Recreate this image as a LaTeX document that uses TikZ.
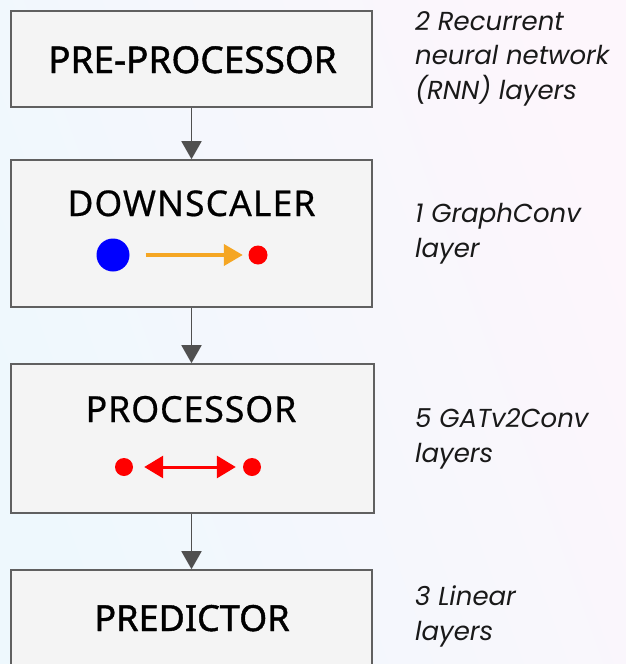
\documentclass[tikz,border=0pt]{standalone}
\usepackage{fontspec}
\usetikzlibrary{arrows.meta}
\newfontfamily\boxfont{Noto Sans}
\newfontfamily\boxfontb{Noto Sans}[FakeBold=1.2]
\newfontfamily\boxfontc{Noto Sans}[FakeBold=0.5]
\newfontfamily\notefont{Poppins}
\definecolor{bgA}{RGB}{238,248,253}
\definecolor{bgB}{RGB}{253,246,252}
\definecolor{boxfill}{RGB}{244,244,244}
\definecolor{boxline}{RGB}{96,96,96}
\definecolor{connc}{RGB}{80,80,80}
\definecolor{orangec}{RGB}{245,166,35}
\tikzset{
  stagebox/.style={draw=boxline, fill=boxfill, line width=1.6pt, rectangle, inner sep=0pt},
  stagelabel/.style={anchor=base, inner sep=0pt},
  note/.style={anchor=base west, inner sep=0pt, font=\notefont\itshape\fontsize{26}{30}\selectfont, text=black!90},
  conn/.style={draw=connc, line width=1.8pt, -{Triangle[width=20pt,length=18pt]}},
  dot/.style={circle, inner sep=0pt, draw=none},
}
\begin{document}
\begin{tikzpicture}[x=1pt,y=-1pt]
\useasboundingbox (0,0) rectangle (626,664);
\shade[left color=bgA, right color=bgB, shading angle=110] (0,0) rectangle (626,664);
\begin{scope}
\clip (0,0) rectangle (626,664);
% boxes
\node[stagebox, minimum width=361pt, minimum height=96pt] (b1) at (191.5,59) {};
\node[stagebox, minimum width=361pt, minimum height=147pt] (b2) at (191.5,233.5) {};
\node[stagebox, minimum width=363pt, minimum height=149pt] (b3) at (192.5,438.5) {};
\node[stagebox, minimum width=361pt, minimum height=140pt] (b4) at (191.5,640) {};
% labels
\node[stagelabel, font=\boxfontb\fontsize{37}{40}\selectfont] (l1) at (192.5,73) {PRE-PROCESSOR};
\node[stagelabel, font=\boxfontc\fontsize{35.5}{40}\selectfont\addfontfeature{LetterSpace=3}] (l2) at (191.5,216) {DOWNSCALER};
\node[stagelabel, font=\boxfontc\fontsize{36}{40}\selectfont\addfontfeature{LetterSpace=2}] (l3) at (191,422) {PROCESSOR};
\node[stagelabel, font=\boxfontb\fontsize{36}{40}\selectfont] (l4) at (192,631) {PREDICTOR};
% connectors
\draw[conn] (b1.south) -- (b2.north);
\draw[conn] (b2.south) -- (b2.south |- b3.north);
\draw[conn] (b3.south -| b2.south) -- (b4.north);
% downscaler glyph
\node[dot, fill=blue, minimum size=33pt] (bd) at (113,255) {};
\node[dot, fill=red, minimum size=19pt] (rd1) at (258,255) {};
\draw[draw=orangec, line width=4pt, -{Triangle[width=21pt,length=19pt]}, shorten <=16pt, shorten >=5.5pt] (bd) -- (rd1);
% processor glyph
\node[dot, fill=red, minimum size=18pt] (rd2) at (124,467) {};
\node[dot, fill=red, minimum size=18pt] (rd3) at (252,467) {};
\draw[draw=red, line width=3pt, {Triangle[width=22pt,length=19pt]}-{Triangle[width=22pt,length=19pt]}, shorten <=11pt, shorten >=7pt] (rd2) -- (rd3);
\end{scope}
% notes
\node[note] (n1a) at (415,30) {2 Recurrent};
\node[note] (n1b) at (415,64.5) {neural network};
\node[note] (n1c) at (415,99) {(RNN) layers};
\node[note] (n2a) at (415,222) {1 GraphConv};
\node[note] (n2b) at (415,257) {layer};
\node[note] (n3a) at (415,427) {5 GATv2Conv};
\node[note] (n3b) at (415,462) {layers};
\node[note] (n4a) at (415,605) {3 Linear};
\node[note] (n4b) at (415,640) {layers};
\end{tikzpicture}
\end{document}
